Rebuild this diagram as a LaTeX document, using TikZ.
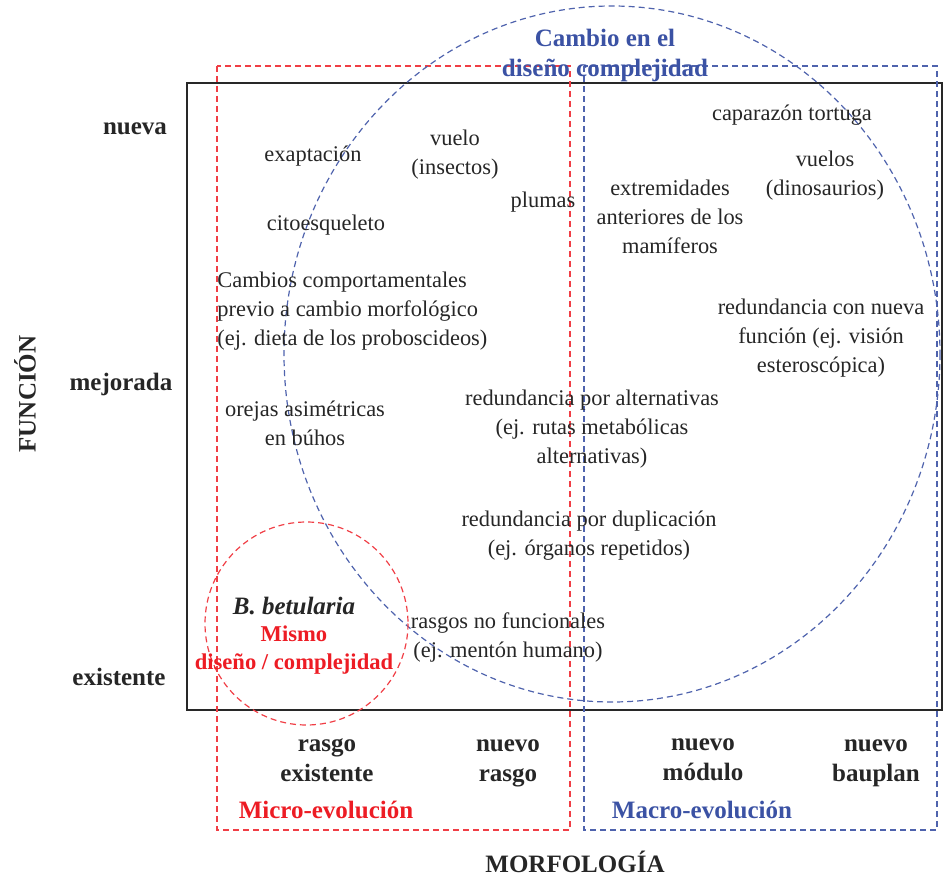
\documentclass[tikz,border=0pt]{standalone}
\usepackage{fontspec}
\setmainfont{Liberation Serif}
\usepackage{xcolor}
\usepackage{tikz}
\usetikzlibrary{positioning, calc}
\definecolor{microred}{RGB}{237, 28, 36}
\definecolor{macroblue}{RGB}{59, 82, 164}
\definecolor{boxgray}{RGB}{40, 40, 40}

\tikzset{
    txt/.style={inner sep=0pt, align=center, font=\fontsize{11.2}{14.5}\selectfont, text=black!85},
    lbl/.style={inner sep=0pt, align=center, font=\fontsize{12.5}{15}\selectfont\bfseries, text=black!85},
    redzone/.style={microred!85, dash pattern=on 3pt off 2pt, line width=0.6pt},
    bluezone/.style={macroblue!90, dash pattern=on 3pt off 2pt, line width=0.6pt}
}

\begin{document}
\begin{tikzpicture}[x=0.5pt, y=-0.5pt]
    \useasboundingbox (0,0) rectangle (943,877);

    % Frame of the chart
    \draw[line width=0.8pt, boxgray] (187,83) rectangle (942,710);

    % Micro and macro zones
    \draw[redzone] (217,66) rectangle (570,830);
    \draw[bluezone] (584,66) rectangle (937,830);

    % Circles
    \draw[bluezone] (612,354) ellipse [x radius=328, y radius=348];
    \draw[redzone] (306.5,623.5) circle [radius=101.5];

    % Title of the big circle
    \node[lbl, text=macroblue] (cambio) at (605,55) {Cambio en el\\diseño complejidad};

    % Function axis
    \node[lbl, rotate=90] (funcion) at (25,394) {FUNCIÓN};
    \node[lbl] (nueva) at (135,129) {nueva};
    \node[lbl] (mejorada) at (121,384) {mejorada};
    \node[lbl] (existente) at (119,677) {existente};

    % Morphology axis
    \node[lbl] (rasgoex) at (327,760) {rasgo\\existente};
    \node[lbl] (nuevorasgo) at (508,763) {nuevo\\rasgo};
    \node[lbl] (modulo) at (703,760) {nuevo\\módulo};
    \node[lbl] (bauplan) at (876,763) {nuevo\\bauplan};
    \node[lbl, text=microred] (micro) at (326,810) {Micro-evolución};
    \node[lbl, text=macroblue] (macro) at (702,810) {Macro-evolución};
    \node[lbl] (morfologia) at (575,862) {MORFOLOGÍA};

    % Examples
    \node[txt] (exaptacion) at (313,156) {exaptación};
    \node[txt] (vuelo) at (455,155) {vuelo\\(insectos)};
    \node[txt] (plumas) at (543,202) {plumas};
    \node[txt] (citoesqueleto) at (326,225) {citoesqueleto};
    \node[txt, align=left, anchor=west] (cambios) at (217,311) {Cambios comportamentales\\previo a cambio morfológico\\(ej. dieta de los proboscideos)};
    \node[txt] (orejas) at (305,423) {orejas asimétricas\\en búhos};
    \node[txt] (extremidades) at (670,217) {extremidades\\anteriores de los\\mamíferos};
    \node[txt] (caparazon) at (792,115) {caparazón tortuga};
    \node[txt] (vuelos) at (825,176) {vuelos\\(dinosaurios)};
    \node[txt] (redvision) at (821,338) {redundancia con nueva\\función (ej. visión\\esteroscópica)};
    \node[txt] (redalt) at (592,429) {redundancia por alternativas\\(ej. rutas metabólicas\\alternativas)};
    \node[txt] (reddup) at (589,536) {redundancia por duplicación\\(ej. órganos repetidos)};
    \node[txt] (nofunc) at (508,637) {rasgos no funcionales\\(ej. mentón humano)};

    % Same design circle
    \node[lbl, font=\fontsize{12.5}{15}\selectfont\bfseries\itshape] (betularia) at (294,606) {B. betularia};
    \node[lbl, text=microred, font=\fontsize{11.3}{14}\selectfont\bfseries] (mismo) at (294,650) {Mismo\\diseño / complejidad};
\end{tikzpicture}
\end{document}
